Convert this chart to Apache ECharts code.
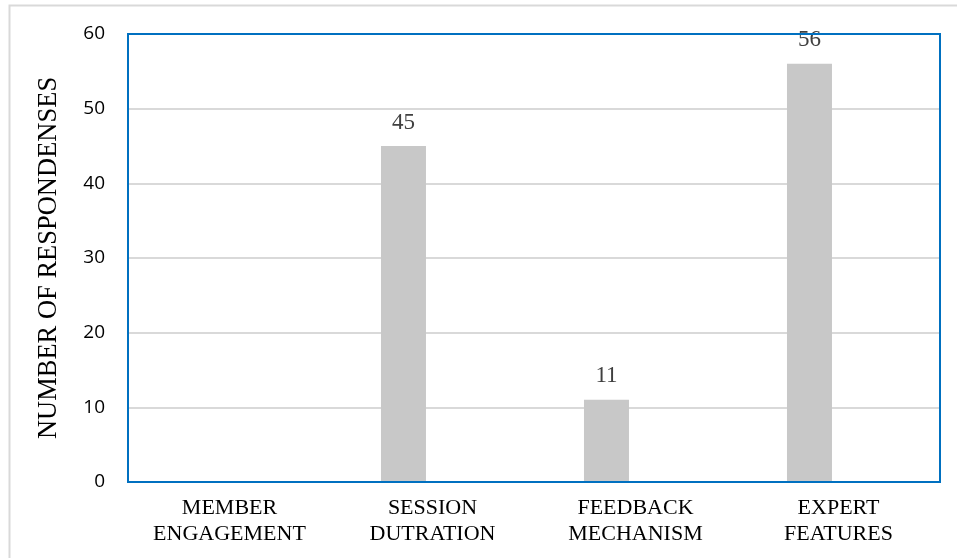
<!DOCTYPE html>
<html>
<head>
<meta charset="utf-8">
<script src="https://cdn.jsdelivr.net/npm/echarts@6/dist/echarts.min.js"></script>
<style>
    html, body { margin: 0; padding: 0; background: #fff; }
    #chart { width: 957px; height: 558px; }
</style>
</head>
<body>
<div id="chart"></div>
<script>
// categories and values
const categories = ['MEMBER\nENGAGEMENT', 'SESSION\nDUTRATION', 'FEEDBACK\nMECHANISM', 'EXPERT\nFEATURES'];
const responses = [null, 45, 11, 56];
const yTicks = { min: 0, max: 60, interval: 10 };

const serif = '"Liberation Serif", "DejaVu Serif", serif';

const chart = echarts.init(document.getElementById('chart'));
chart.setOption({
    animation: false,
    graphic: [{
        type: 'rect',
        shape: { x: 9.5, y: 5.5, width: 960, height: 560 },
        style: { fill: 'none', stroke: '#d9d9d9', lineWidth: 2 },
        silent: true
    }],
    grid: {
        left: 128, right: 17, top: 34, bottom: 76,
        show: true,
        borderColor: '#0070C0',
        borderWidth: 2,
        z: 3
    },
    xAxis: {
        type: 'category',
        data: categories,
        axisLine: { show: false },
        axisTick: { show: false },
        axisLabel: {
            margin: 13,
            fontFamily: serif,
            fontSize: 22,
            lineHeight: 26,
            color: '#000'
        }
    },
    yAxis: {
        type: 'value',
        min: yTicks.min,
        max: yTicks.max,
        interval: yTicks.interval,
        name: 'NUMBER OF RESPONDENSES',
        nameLocation: 'middle',
        nameGap: 65,
        nameTextStyle: { fontFamily: serif, fontSize: 26.5, color: '#000' },
        axisLine: { show: false },
        axisTick: { show: false },
        axisLabel: {
            margin: 23,
            fontFamily: '"Open Sans", sans-serif',
            fontSize: 19,
            color: '#000'
        },
        splitLine: { lineStyle: { color: '#d9d9d9', width: 2 } }
    },
    series: [
        {
            type: 'bar',
            data: responses,
            barWidth: 45,
            barGap: '29%',
            itemStyle: { color: '#c8c8c8' },
            label: {
                show: true,
                position: 'top',
                distance: 12,
                fontFamily: serif,
                fontSize: 23,
                color: '#404040'
            }
        },
        {
            // empty second slot keeps bars left of the category centre
            type: 'bar',
            data: [null, null, null, null],
            barWidth: 45
        }
    ]
});
</script>
</body>
</html>
